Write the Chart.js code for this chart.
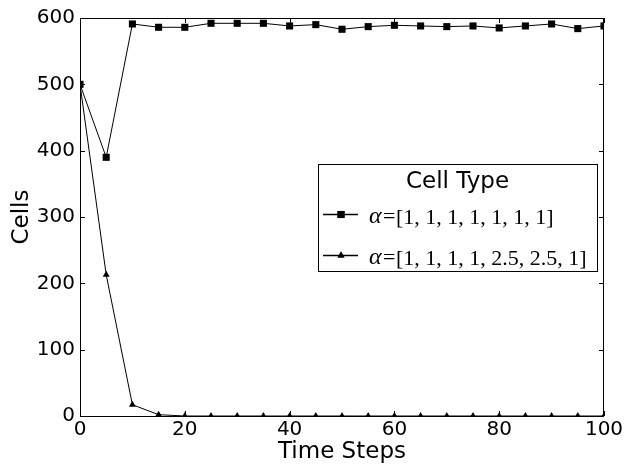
<!DOCTYPE html>
<html>
<head>
<meta charset="utf-8">
<script src="https://cdn.jsdelivr.net/npm/chart.js@4/dist/chart.umd.min.js"></script>
<style>
html,body{margin:0;padding:0;background:#fff;}
canvas{display:block;}
</style>
</head>
<body>
<canvas id="c" width="626" height="466"></canvas>
<script>
const timeSteps = [0,5,10,15,20,25,30,35,40,45,50,55,60,65,70,75,80,85,90,95,100];
const uniformAlpha = [500,390,591,586,586,592,592,592,588,590,583,587,589,588,587,588,585,588,591,584,588];
const modifiedAlpha = [500,213,17,2,0,0,0,0,0,0,0,0,0,0,0,0,0,0,0,0,0];
const seriesLabels = ['α = [1,1,1,1,1,1,1]', 'α = [1,1,1,1,2.5,2.5,1]'];
const seriesBrackets = ['[1, 1, 1, 1, 1, 1, 1]', '[1, 1, 1, 1, 2.5, 2.5, 1]'];
const legendTitle = 'Cell Type';
const xTicks = [0,20,40,60,80,100];
const yTicks = [0,100,200,300,400,500,600];

const frameTicks = {
  id: 'frameTicks',
  afterDatasetsDraw(chart) {
    const {ctx, chartArea: a, scales: {x, y}} = chart;
    ctx.save();
    ctx.strokeStyle = '#000';
    ctx.lineWidth = 1;
    ctx.strokeRect(a.left + 0.5, a.top + 0.5, a.right - a.left - 1, a.bottom - a.top);
    const L = 5;
    ctx.beginPath();
    xTicks.forEach(v => {
      const px = Math.round(x.getPixelForValue(v)) + 0.5;
      ctx.moveTo(px, a.bottom); ctx.lineTo(px, a.bottom - L);
      ctx.moveTo(px, a.top); ctx.lineTo(px, a.top + L);
    });
    yTicks.forEach(v => {
      const py = Math.round(y.getPixelForValue(v)) + 0.5;
      ctx.moveTo(a.left, py); ctx.lineTo(a.left + L, py);
      ctx.moveTo(a.right, py); ctx.lineTo(a.right - L, py);
    });
    ctx.stroke();

    // legend
    const bx = a.right - 286, by = a.top + 145.5, bw = 279, bh = 107;
    ctx.fillStyle = '#fff';
    ctx.fillRect(bx, by, bw, bh);
    ctx.strokeRect(Math.round(bx) + 0.5, Math.round(by) + 0.5, bw, bh);
    ctx.fillStyle = '#000';
    ctx.font = '23px "DejaVu Sans"';
    ctx.textAlign = 'center';
    ctx.textBaseline = 'alphabetic';
    ctx.fillText(legendTitle, bx + bw / 2, by + 24);
    const rows = [by + 51, by + 92];
    chart.data.datasets.forEach((ds, i) => {
      const cy = rows[i];
      ctx.beginPath();
      ctx.lineWidth = 1.5;
      ctx.moveTo(bx + 5, cy); ctx.lineTo(bx + 40, cy);
      ctx.stroke();
      Chart.helpers.drawPoint(ctx, {pointStyle: ds.pointStyle, radius: ds.pointRadius, borderWidth: 0}, bx + 23, cy);
      ctx.fill();
      ctx.textAlign = 'left';
      ctx.font = 'italic 24px "Liberation Serif"';
      ctx.fillText('α', bx + 51, cy + 8);
      ctx.font = '22px "Liberation Serif"';
      ctx.fillText('=', bx + 65, cy + 8);
      ctx.fillText(seriesBrackets[i], bx + 78, cy + 9);
    });
    ctx.restore();
  }
};

new Chart(document.getElementById('c'), {
  type: 'line',
  data: {
    labels: timeSteps,
    datasets: [
      {
        label: seriesLabels[0],
        data: timeSteps.map((t, i) => ({x: t, y: uniformAlpha[i]})),
        borderColor: '#000', backgroundColor: '#000', borderWidth: 1,
        pointStyle: 'rect', pointRadius: 5, pointBorderWidth: 0,
        pointBackgroundColor: '#000', tension: 0, fill: false, clip: 0
      },
      {
        label: seriesLabels[1],
        data: timeSteps.map((t, i) => ({x: t, y: modifiedAlpha[i]})),
        borderColor: '#000', backgroundColor: '#000', borderWidth: 1,
        pointStyle: 'triangle', pointRadius: 4, pointBorderWidth: 0,
        pointBackgroundColor: '#000', tension: 0, fill: false, clip: 0
      }
    ]
  },
  options: {
    responsive: false,
    animation: false,
    layout: {padding: {top: 18, right: 22, left: 0, bottom: 0}},
    plugins: {legend: {display: false}, tooltip: {enabled: false}},
    scales: {
      x: {
        type: 'linear', min: 0, max: 100,
        afterFit: s => { s.height = 50; },
        afterBuildTicks: s => { s.ticks = xTicks.map(v => ({value: v})); },
        grid: {display: false, drawTicks: false},
        border: {display: false},
        ticks: {color: '#000', font: {family: 'DejaVu Sans', size: 20}, padding: 2, maxRotation: 0, autoSkip: false},
        title: {display: true, text: 'Time Steps', color: '#000', font: {family: 'DejaVu Sans', size: 23}, padding: {top: 0, bottom: 0}}
      },
      y: {
        min: 0, max: 600,
        afterFit: s => { s.width = 80; },
        afterBuildTicks: s => { s.ticks = yTicks.map(v => ({value: v})); },
        grid: {display: false, drawTicks: false},
        border: {display: false},
        ticks: {color: '#000', font: {family: 'DejaVu Sans', size: 20}, padding: 5, autoSkip: false},
        title: {display: true, text: 'Cells', color: '#000', font: {family: 'DejaVu Sans', size: 23}, padding: {top: 8, bottom: 0}}
      }
    }
  },
  plugins: [frameTicks]
});
</script>
</body>
</html>
